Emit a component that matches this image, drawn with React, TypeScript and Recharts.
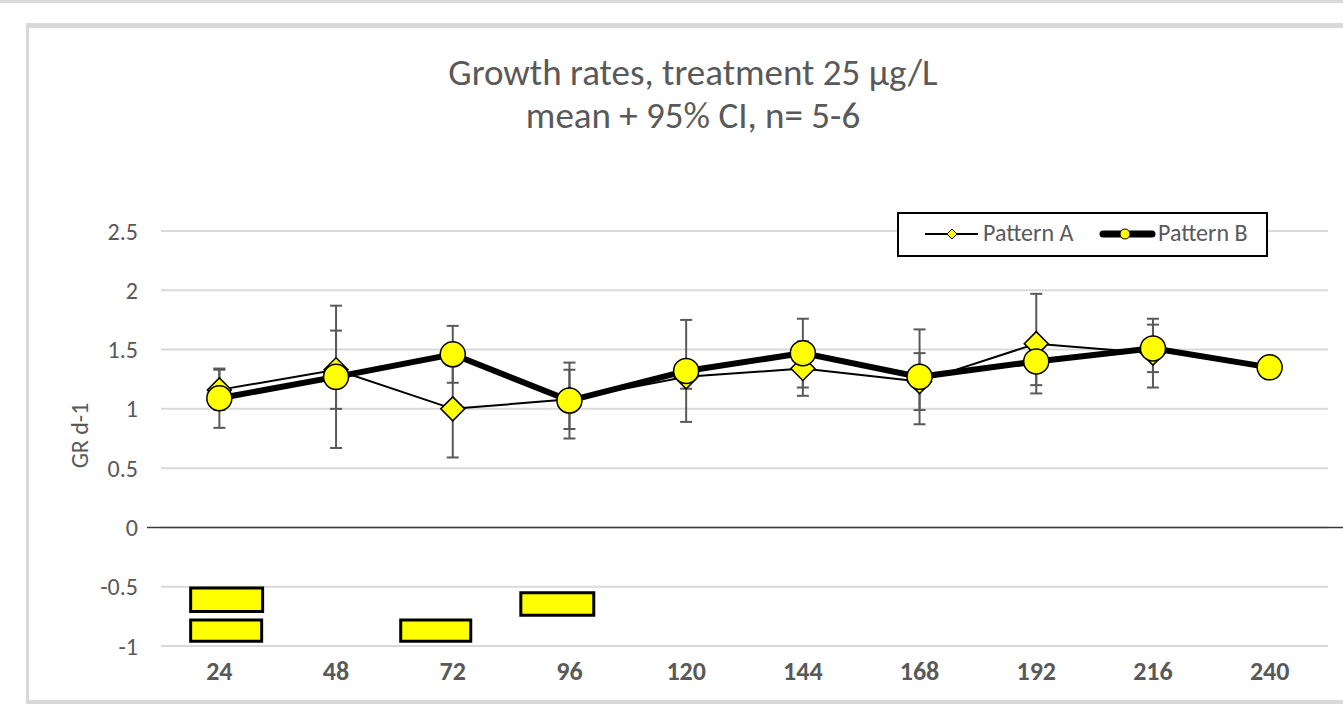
import React from 'react';
import {
  ComposedChart,
  Line,
  XAxis,
  YAxis,
  CartesianGrid,
  ErrorBar,
  ReferenceLine,
  ReferenceArea,
  Legend,
  Label,
} from 'recharts';

const hours = [24, 48, 72, 96, 120, 144, 168, 192, 216, 240];
const patternA = [1.16, 1.33, 1.0, 1.08, 1.27, 1.34, 1.23, 1.55, 1.47, null];
const ciA = [0.17, 0.33, 0.41, 0.25, 0.1, 0.23, 0.24, 0.42, 0.29, null];
const patternB = [1.09, 1.27, 1.46, 1.07, 1.32, 1.47, 1.27, 1.4, 1.51, 1.35];
const ciB = [0.25, 0.6, 0.24, 0.32, 0.43, 0.29, 0.4, 0.2, 0.2, null];
const yTicks = [-1, -0.5, 0, 0.5, 1, 1.5, 2, 2.5];

// yellow boxes drawn below zero (x in hours, y in GR)
const boxFrom = [18.1, 18.1, 61.3, 86.0];
const boxTo = [32.9, 32.7, 75.7, 101.0];
const boxTop = [-0.51, -0.78, -0.78, -0.55];
const boxBottom = [-0.71, -0.96, -0.96, -0.74];

const FONT = 'Carlito, Lato, "Open Sans", sans-serif';
const TEXT = '#595959';
const GRID = '#d9d9d9';
const YELLOW = '#ffff00';

const data = hours.map((h, i) => ({ hour: h, a: patternA[i], ciA: ciA[i], b: patternB[i], ciB: ciB[i] }));

function DiamondDot(props: any) {
  const { cx, cy, index, value } = props;
  if (cx == null || cy == null || value == null) return <g key={`d-${index}`} />;
  const s = 12;
  return (
    <path
      key={`d-${index}`}
      d={`M${cx},${cy - s}L${cx + s},${cy}L${cx},${cy + s}L${cx - s},${cy}Z`}
      fill={YELLOW}
      stroke="#000"
      strokeWidth={1.5}
    />
  );
}

function ZeroLine(props: any) {
  const { x1, x2, y1 } = props;
  return <line x1={x1 - 14} x2={x2 + 20} y1={y1} y2={y1} stroke="#3a3a3a" strokeWidth={1.5} />;
}

function LegendBox() {
  return (
    <div
      style={{
        position: 'relative',
        width: 371,
        height: 45,
        boxSizing: 'border-box',
        border: '2px solid #000',
        background: '#fff',
        fontFamily: FONT,
        fontSize: 24,
        color: TEXT,
      }}
    >
      <svg width={371} height={45} style={{ position: 'absolute', left: -2, top: -2 }}>
        <line x1={28} x2={81} y1={22} y2={22} stroke="#000" strokeWidth={2} />
        <path d="M55,17L60,22L55,27L50,22Z" fill={YELLOW} stroke="#000" strokeWidth={1} />
        <line x1={206} x2={255} y1={22} y2={22} stroke="#000" strokeWidth={7} strokeLinecap="round" />
        <circle cx={228} cy={22} r={5} fill={YELLOW} stroke="#000" strokeWidth={1} />
      </svg>
      <span style={{ position: 'absolute', left: 84, top: 5, lineHeight: '28px' }}>Pattern A</span>
      <span style={{ position: 'absolute', left: 259, top: 5, lineHeight: '28px' }}>Pattern B</span>
    </div>
  );
}

export default function App() {
  return (
    <div style={{ position: 'absolute', left: 0, top: 0, width: 1343, height: 704, background: '#fff', overflow: 'hidden', fontFamily: FONT }}>
      <div style={{ position: 'absolute', left: 0, top: 0, width: 1343, height: 3, background: GRID }} />
      <div style={{ position: 'absolute', left: 26, top: 23, width: 1317, height: 5, background: GRID }} />
      <div style={{ position: 'absolute', left: 26, top: 23, width: 3, height: 681, background: GRID }} />
      <div style={{ position: 'absolute', left: 26, top: 700, width: 1317, height: 4, background: GRID }} />

      <div style={{ position: 'absolute', left: 0, top: 51, width: 1386, textAlign: 'center', fontSize: 37, lineHeight: '44px', color: TEXT }}>
        Growth rates, treatment 25 µg/L
      </div>
      <div style={{ position: 'absolute', left: 0, top: 94, width: 1386, textAlign: 'center', fontSize: 37, lineHeight: '44px', color: TEXT }}>
        mean + 95% CI, n= 5-6
      </div>

      <div style={{ position: 'absolute', left: 0, top: 0 }}>
        <ComposedChart width={1343} height={704} data={data} margin={{ top: 231, right: 15, bottom: 28, left: 60 }}>
          <CartesianGrid vertical={false} stroke={GRID} strokeWidth={2} />
          <XAxis
            dataKey="hour"
            type="number"
            domain={[12, 252]}
            ticks={hours}
            axisLine={false}
            tickLine={false}
            tickMargin={10}
            height={30}
            tick={{ fill: TEXT, fontSize: 26, fontWeight: 'bold', fontFamily: FONT }}
          />
          <YAxis
            domain={[-1, 2.5]}
            ticks={yTicks}
            width={101}
            axisLine={false}
            tickLine={false}
            tickMargin={17}
            tick={{ fill: TEXT, fontSize: 24, fontFamily: FONT }}
          >
            <Label
              content={({ viewBox }: any) => {
                const x = viewBox.x + 19;
                const y = viewBox.y + viewBox.height / 2 - 3;
                return (
                  <text x={x} y={y} transform={`rotate(-90 ${x} ${y})`} textAnchor="middle" dominantBaseline="central" fill={TEXT} fontSize={24} fontFamily={FONT}>
                    GR d-1
                  </text>
                );
              }}
            />
          </YAxis>
          <ReferenceLine y={0} shape={ZeroLine} />
          {boxFrom.map((x1, i) => (
            <ReferenceArea
              key={`box-${i}`}
              x1={x1}
              x2={boxTo[i]}
              y1={boxBottom[i]}
              y2={boxTop[i]}
              ifOverflow="visible"
              fill={YELLOW}
              fillOpacity={1}
              stroke="#000"
              strokeWidth={3}
            />
          ))}
          <Line dataKey="a" name="Pattern A" stroke="#000" strokeWidth={2} dot={DiamondDot} activeDot={false} isAnimationActive={false}>
            <ErrorBar dataKey="ciA" width={6} stroke={TEXT} strokeWidth={2} isAnimationActive={false} />
          </Line>
          <Line
            dataKey="b"
            name="Pattern B"
            stroke="#000"
            strokeWidth={6}
            dot={{ r: 12.5, fill: YELLOW, stroke: '#000', strokeWidth: 1.5 }}
            activeDot={false}
            isAnimationActive={false}
          >
            <ErrorBar dataKey="ciB" width={6} stroke={TEXT} strokeWidth={2} isAnimationActive={false} />
          </Line>
          <Legend
            layout="vertical"
            align="center"
            verticalAlign="middle"
            content={() => <LegendBox />}
            wrapperStyle={{ left: 897, top: 212, width: 371, height: 45, bottom: 'auto', right: 'auto' }}
          />
        </ComposedChart>
      </div>
    </div>
  );
}
